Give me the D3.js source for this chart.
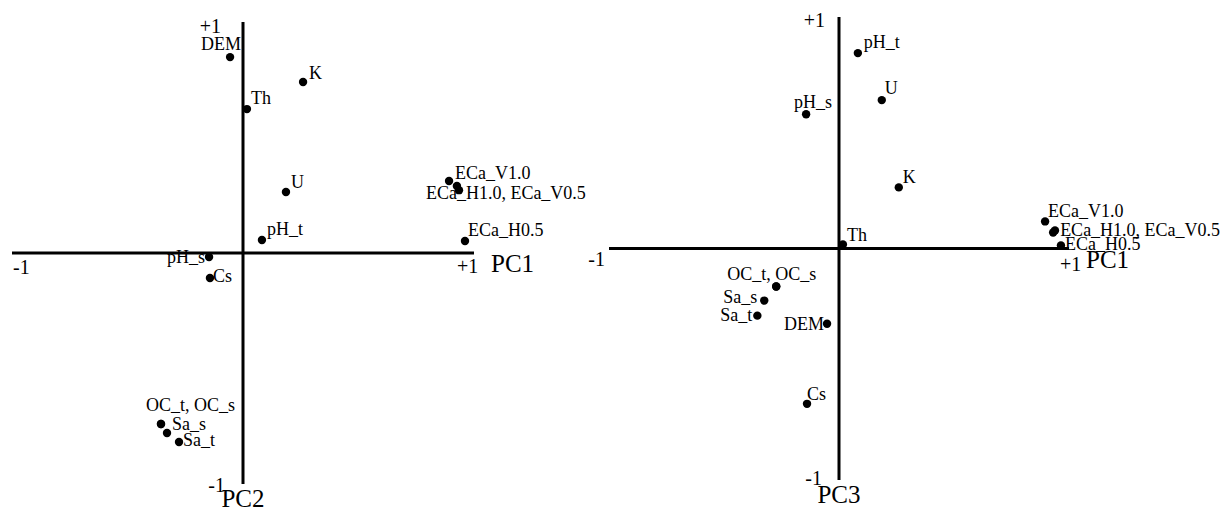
<!DOCTYPE html>
<html>
<head>
<meta charset="utf-8">
<script src="https://cdn.jsdelivr.net/npm/d3@7"></script>
<style>
  body { margin: 0; background: #fff; }
</style>
</head>
<body>
<div id="chart"></div>
<script>
// Variable names (same order in every array below)
var variables = ["DEM", "K", "Th", "U", "pH_t", "pH_s", "Cs",
  "ECa_V1.0", "ECa_H1.0", "ECa_V0.5", "ECa_H0.5", "OC_t", "OC_s", "Sa_s", "Sa_t"];

// Loadings
var pc1Left  = [-0.056, 0.260, 0.017, 0.186, 0.082, -0.147, -0.143, 0.892, 0.926, 0.935, 0.961, -0.355, -0.355, -0.329, -0.277];
var pc2      = [0.848, 0.740, 0.623, 0.264, 0.056, -0.017, -0.108, 0.312, 0.290, 0.272, 0.052, -0.740, -0.740, -0.779, -0.818];
var pc1Right = [-0.052, 0.260, 0.017, 0.186, 0.082, -0.143, -0.139, 0.896, 0.931, 0.939, 0.965, -0.273, -0.273, -0.325, -0.355];
var pc3      = [-0.325, 0.264, 0.017, 0.641, 0.844, 0.580, -0.671, 0.117, 0.069, 0.078, 0.013, -0.164, -0.164, -0.225, -0.290];

var endLabels = ["-1", "+1"];

// label placement per panel (text, which point it hangs on, offset)
var leftLabels = [
  { text: "DEM", at: "DEM", dx: 11, dy: -7, anchor: "end" },
  { text: "K", at: "K", dx: 6, dy: -3, anchor: "start" },
  { text: "Th", at: "Th", dx: 4, dy: -5, anchor: "start" },
  { text: "U", at: "U", dx: 5, dy: -4, anchor: "start" },
  { text: "pH_t", at: "pH_t", dx: 5, dy: -5, anchor: "start" },
  { text: "pH_s", at: "pH_s", dx: -4, dy: 6, anchor: "end" },
  { text: "Cs", at: "Cs", dx: 3, dy: 4, anchor: "start" },
  { text: "ECa_V1.0", at: "ECa_V1.0", dx: 6, dy: -2, anchor: "start" },
  { text: "ECa_H1.0, ECa_V0.5", at: "ECa_H1.0", dx: -31, dy: 13, anchor: "start" },
  { text: "ECa_H0.5", at: "ECa_H0.5", dx: 3, dy: -5, anchor: "start" },
  { text: "OC_t, OC_s", at: "OC_t", dx: -15, dy: -13, anchor: "start" },
  { text: "Sa_s", at: "Sa_s", dx: 5, dy: -3, anchor: "start" },
  { text: "Sa_t", at: "Sa_t", dx: 4, dy: 4, anchor: "start" }
];
var rightLabels = [
  { text: "DEM", at: "DEM", dx: -3, dy: 6, anchor: "end" },
  { text: "K", at: "K", dx: 4, dy: -4, anchor: "start" },
  { text: "Th", at: "Th", dx: 4, dy: -4, anchor: "start" },
  { text: "U", at: "U", dx: 3, dy: -6, anchor: "start" },
  { text: "pH_t", at: "pH_t", dx: 6, dy: -5, anchor: "start" },
  { text: "pH_s", at: "pH_s", dx: -12, dy: -6, anchor: "start" },
  { text: "Cs", at: "Cs", dx: 0, dy: -4, anchor: "start" },
  { text: "ECa_V1.0", at: "ECa_V1.0", dx: 3, dy: -4, anchor: "start" },
  { text: "ECa_H1.0, ECa_V0.5", at: "ECa_H1.0", dx: 7, dy: 3, anchor: "start" },
  { text: "ECa_H0.5", at: "ECa_H0.5", dx: 4, dy: 5, anchor: "start" },
  { text: "OC_t, OC_s", at: "OC_t", dx: -49, dy: -6, anchor: "start" },
  { text: "Sa_s", at: "Sa_s", dx: -7, dy: 2, anchor: "end" },
  { text: "Sa_t", at: "Sa_t", dx: -5, dy: 5, anchor: "end" }
];

var svg = d3.select("#chart").append("svg")
  .attr("width", 1222)
  .attr("height", 512)
  .attr("font-family", "'Liberation Serif', 'Times New Roman', 'DejaVu Serif', serif");

function drawPanel(p) {
  var x = d3.scaleLinear().domain([-1, 1]).range(p.xRange);
  var y = d3.scaleLinear().domain([-1, 1]).range(p.yRange);
  var g = svg.append("g");

  // axes as plain crossing lines
  g.append("line")
    .attr("x1", x(-1)).attr("x2", x(1))
    .attr("y1", y(0)).attr("y2", y(0))
    .attr("stroke", "#000").attr("stroke-width", 3);
  g.append("line")
    .attr("x1", x(0)).attr("x2", x(0))
    .attr("y1", y(-1)).attr("y2", y(1))
    .attr("stroke", "#000").attr("stroke-width", 3);

  // end labels of the axes
  var ends = [
    { t: endLabels[0], x: x(-1) + p.xMin[0], y: y(0) + p.xMin[1], a: p.xMin[2] },
    { t: endLabels[1], x: x(1) + p.xMax[0], y: y(0) + p.xMax[1], a: "start" },
    { t: endLabels[1], x: x(0) + p.yMax[0], y: y(1) + p.yMax[1], a: "end" },
    { t: endLabels[0], x: x(0) + p.yMin[0], y: y(-1) + p.yMin[1], a: "end" }
  ];
  g.selectAll(".end").data(ends).enter().append("text")
    .attr("class", "end")
    .attr("x", function (d) { return d.x; })
    .attr("y", function (d) { return d.y; })
    .attr("text-anchor", function (d) { return d.a; })
    .style("font-size", "20px")
    .text(function (d) { return d.t; });

  g.append("text")
    .attr("x", x(1) + 17).attr("y", y(0) + 19)
    .style("font-size", "25px")
    .text(p.xTitle);
  g.append("text")
    .attr("x", x(0)).attr("y", y(-1) + 23)
    .attr("text-anchor", "middle")
    .style("font-size", "25px")
    .text(p.yTitle);

  var pts = variables.map(function (v, i) {
    return { name: v, a: p.xs[i], b: p.ys[i] };
  });

  g.selectAll(".pt").data(pts).enter().append("circle")
    .attr("class", "pt")
    .attr("cx", function (d) { return x(d.a); })
    .attr("cy", function (d) { return y(d.b); })
    .attr("r", 4.2)
    .attr("fill", "#000");

  g.selectAll(".lbl").data(p.labels).enter().append("text")
    .attr("class", "lbl")
    .attr("x", function (d) { var i = variables.indexOf(d.at); return x(p.xs[i]) + d.dx; })
    .attr("y", function (d) { var i = variables.indexOf(d.at); return y(p.ys[i]) + d.dy; })
    .attr("text-anchor", function (d) { return d.anchor; })
    .style("font-size", "18px")
    .text(function (d) { return d.text; });
}

drawPanel({
  xs: pc1Left, ys: pc2, labels: leftLabels,
  xRange: [12, 474], yRange: [484, 22],
  xTitle: "PC1", yTitle: "PC2",
  xMin: [1, 21, "start"], xMax: [-17, 20], yMax: [-22, 11], yMin: [-18, 8]
});

drawPanel({
  xs: pc1Right, ys: pc3, labels: rightLabels,
  xRange: [609, 1069], yRange: [480, 17],
  xTitle: "PC1", yTitle: "PC3",
  xMin: [-4, 17, "end"], xMax: [-9, 22], yMax: [-14, 10], yMin: [-17, 5]
});
</script>
</body>
</html>
